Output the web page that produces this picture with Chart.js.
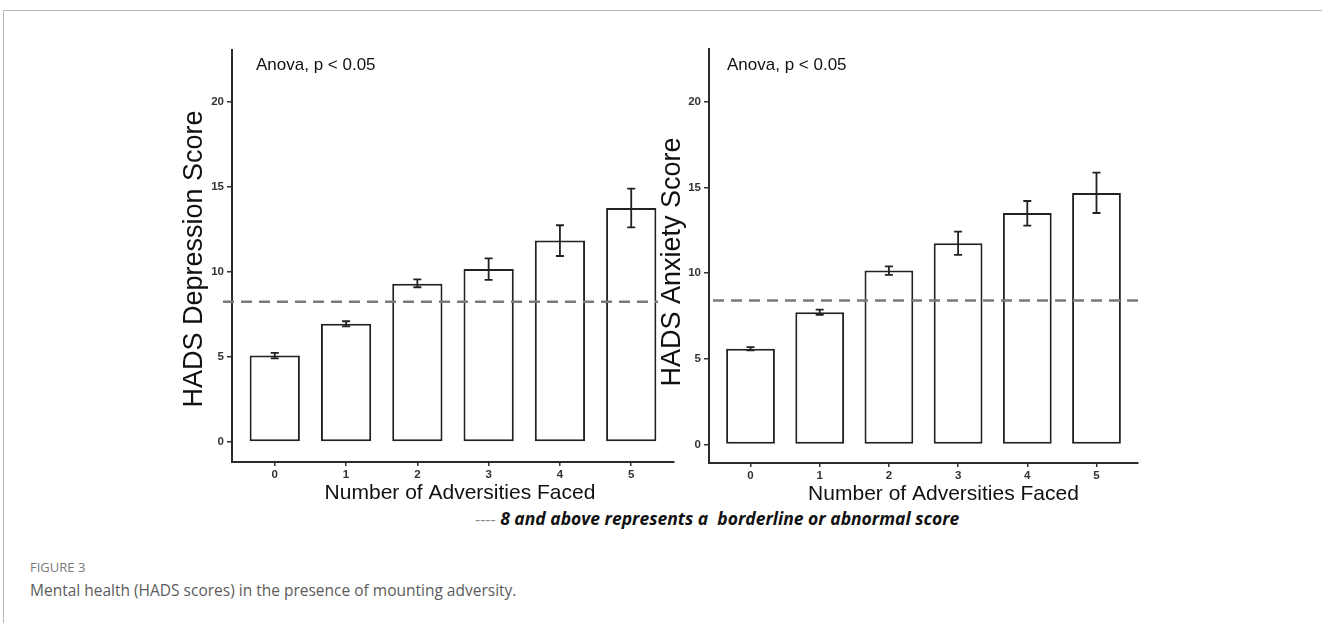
<!DOCTYPE html>
<html>
<head>
<meta charset="utf-8">
<title>Figure 3 - HADS scores and adversity</title>
<script src="https://cdn.jsdelivr.net/npm/chart.js@4.4.1/dist/chart.umd.min.js"></script>
<style>
    html, body { margin: 0; padding: 0; background: #fff; }
    body { width: 1322px; height: 623px; position: relative; overflow: hidden; }
    .frame {
        position: absolute; left: 3px; top: 10px; width: 1340px; height: 640px;
        border-top: 1px solid #b8b8b8; border-left: 1px solid #b8b8b8;
    }
    canvas { position: absolute; }
    #depChart { left: 175px; top: 30px; }
    #anxChart { left: 653px; top: 30px; }
    .note {
        position: absolute; left: 475px; top: 507px; line-height: 22px;
        font-family: 'Open Sans', sans-serif; font-size: 17.5px; white-space: pre; color: #111;
    }
    .note .dash { color: #8a8a8a; font-size: 16px; }
    .note .txt { font-weight: 700; font-style: italic; }
    .fig-label {
        position: absolute; left: 30px; top: 559px; line-height: 16px;
        font-family: 'Open Sans', sans-serif; font-size: 13px; color: #7a7a7a;
    }
    .fig-caption {
        position: absolute; left: 30px; top: 580px; line-height: 20px;
        font-family: 'Open Sans', sans-serif; font-size: 15.5px; color: #5c5c5c;
    }
</style>
</head>
<body>
<div class="frame"></div>
<canvas id="depChart" width="505" height="472"></canvas>
<canvas id="anxChart" width="491" height="473"></canvas>
<div class="note"><span class="dash">----</span><span class="txt"> 8 and above represents a  borderline or abnormal score</span></div>
<div class="fig-label">FIGURE 3</div>
<div class="fig-caption">Mental health (HADS scores) in the presence of mounting adversity.</div>

<script>
// ============================================================
// Figure 3 — HADS scores by number of adversities faced
// ============================================================

// ---- Data -------------------------------------------------
var adversities = ['0', '1', '2', '3', '4', '5'];
var xTicks = [0, 1, 2, 3, 4, 5];
var yTicks = [0, 5, 10, 15, 20];

var depressionMean = [5.08, 6.96, 9.3, 10.17, 11.85, 13.77];
var depressionLow  = [4.92, 6.8, 9.1, 9.53, 10.94, 12.62];
var depressionHigh = [5.24, 7.1, 9.57, 10.8, 12.75, 14.9];
var depressionCutoff = 8.25;

var anxietyMean = [5.59, 7.72, 10.15, 11.75, 13.51, 14.68];
var anxietyLow  = [5.5, 7.56, 9.9, 11.07, 12.77, 13.51];
var anxietyHigh = [5.68, 7.87, 10.39, 12.42, 14.21, 15.87];
var anxietyCutoff = 8.4;

var statLabel = 'Anova, p < 0.05';
var xTitle = 'Number of Adversities Faced';

var FONT = "'Liberation Sans', Arial, Helvetica, sans-serif";

// ---- Error bars, cut-off line and panel text ----------------
var panelDecor = {
    id: 'panelDecor',
    afterDatasetsDraw: function(chart, args, o) {
        var ctx = chart.ctx;
        var area = chart.chartArea;
        var ys = chart.scales.y;
        var meta = chart.getDatasetMeta(0);

        ctx.save();

        // dashed borderline cut-off
        var yc = ys.getPixelForValue(o.cutoff);
        ctx.strokeStyle = '#7a7a7a';
        ctx.lineWidth = 2.5;
        ctx.setLineDash([11, 7]);
        ctx.beginPath();
        ctx.moveTo(area.left + o.cutFrom, yc);
        ctx.lineTo(area.right + o.cutTo, yc);
        ctx.stroke();
        ctx.setLineDash([]);

        // error bars
        ctx.strokeStyle = '#222';
        ctx.lineWidth = 1.8;
        meta.data.forEach(function(bar, i) {
            var top = ys.getPixelForValue(o.high[i]);
            var bot = ys.getPixelForValue(o.low[i]);
            ctx.beginPath();
            ctx.moveTo(bar.x, top); ctx.lineTo(bar.x, bot);
            ctx.moveTo(bar.x - 4, top); ctx.lineTo(bar.x + 4, top);
            ctx.moveTo(bar.x - 4, bot); ctx.lineTo(bar.x + 4, bot);
            ctx.stroke();
        });

        ctx.restore();
    },
    afterDraw: function(chart, args, o) {
        var ctx = chart.ctx;
        var area = chart.chartArea;

        ctx.save();
        ctx.fillStyle = '#111';
        ctx.textBaseline = 'middle';

        // stats annotation
        ctx.font = '17px ' + FONT;
        ctx.textAlign = 'left';
        ctx.fillText(statLabel, area.left + o.statDx, area.top + o.statDy);

        // x axis title
        ctx.font = '21px ' + FONT;
        ctx.textAlign = 'center';
        ctx.fillText(xTitle, (area.left + area.right) / 2 + o.xTitleDx, area.bottom + 31);

        // y axis title
        ctx.translate(area.left + o.yTitleDx, (area.top + area.bottom) / 2 + o.yTitleDy);
        ctx.rotate(-Math.PI / 2);
        ctx.font = '27px ' + FONT;
        ctx.fillText(o.yTitle, 0, 0);

        ctx.restore();
    }
};

function buildPanel(canvasId, p) {
    var points = p.mean.map(function(v, i) { return { x: xTicks[i], y: v }; });

    return new Chart(document.getElementById(canvasId), {
        type: 'bar',
        data: {
            datasets: [{
                data: points,
                backgroundColor: '#ffffff',
                borderColor: '#222',
                borderWidth: 2,
                borderSkipped: false,
                barPercentage: 0.705,
                categoryPercentage: 1
            }]
        },
        options: {
            responsive: false,
            animation: false,
            events: [],
            devicePixelRatio: 1,
            layout: { padding: { left: 0, top: p.padTop, right: 6, bottom: 0 } },
            plugins: {
                legend: { display: false },
                tooltip: { enabled: false },
                panelDecor: {
                    cutoff: p.cutoff, cutFrom: p.cutFrom, cutTo: p.cutTo,
                    low: p.low, high: p.high,
                    yTitle: p.yTitle, yTitleDx: p.yTitleDx, yTitleDy: p.yTitleDy,
                    xTitleDx: p.xTitleDx, statDx: p.statDx, statDy: p.statDy
                }
            },
            scales: {
                x: {
                    type: 'linear',
                    offset: false,
                    min: -0.6,
                    max: 5.6,
                    afterBuildTicks: function(s) {
                        s.ticks = xTicks.map(function(v) { return { value: v }; });
                    },
                    afterFit: function(s) { s.height = 40; },
                    ticks: {
                        callback: function(v) { return adversities[v]; },
                        font: { family: FONT, size: 11.5, weight: 'bold' },
                        color: '#333',
                        padding: 2,
                        maxRotation: 0
                    },
                    grid: {
                        offset: false, drawOnChartArea: false, drawTicks: true,
                        tickLength: 4, color: '#333', lineWidth: 1.5
                    },
                    border: { display: true, color: '#2a2a2a', width: 2 }
                },
                y: {
                    min: p.yMin,
                    max: p.yMax,
                    afterBuildTicks: function(s) {
                        s.ticks = yTicks.map(function(v) { return { value: v }; });
                    },
                    afterFit: function(s) { s.width = p.yAxisWidth; },
                    ticks: {
                        font: { family: FONT, size: 11.5, weight: 'bold' },
                        color: '#333',
                        padding: 3
                    },
                    grid: { drawOnChartArea: false, drawTicks: true, tickLength: 5, color: '#333', lineWidth: 1.5 },
                    border: { display: true, color: '#2a2a2a', width: 2 }
                }
            }
        },
        plugins: [panelDecor]
    });
}

// ---- Panels -------------------------------------------------
buildPanel('depChart', {
    mean: depressionMean, low: depressionLow, high: depressionHigh, cutoff: depressionCutoff,
    yTitle: 'HADS Depression Score',
    yMin: -1.18, yMax: 23.06, yAxisWidth: 57, padTop: 20,
    cutFrom: -9, cutTo: -16,
    yTitleDx: -37, yTitleDy: 3, xTitleDx: 7, statDx: 24, statDy: 15
});

buildPanel('anxChart', {
    mean: anxietyMean, low: anxietyLow, high: anxietyHigh, cutoff: anxietyCutoff,
    yTitle: 'HADS Anxiety Score',
    yMin: -1.08, yMax: 23.08, yAxisWidth: 56, padTop: 19,
    cutFrom: 4, cutTo: 4,
    yTitleDx: -36, yTitleDy: 6, xTitleDx: 20, statDx: 18, statDy: 16
});
</script>
</body>
</html>
